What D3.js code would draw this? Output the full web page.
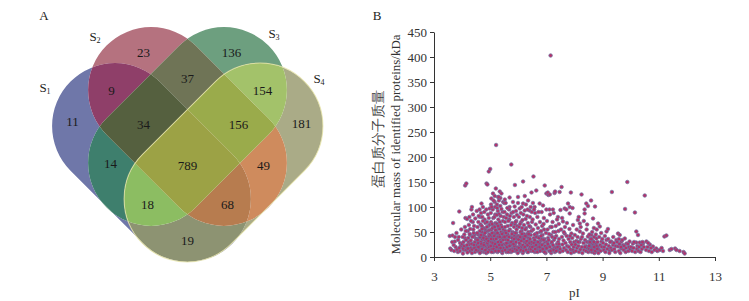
<!DOCTYPE html>
<html>
<head>
<meta charset="utf-8">
<script src="https://cdn.jsdelivr.net/npm/d3@7"></script>
<style>
  body { margin: 0; background: #fff; }
  text { font-family: "Liberation Serif", "Times New Roman", serif; }
</style>
</head>
<body>
<div id="chart"></div>
<script>
// ---- data: Venn panel A ----
const setNames = ['S1', 'S2', 'S3', 'S4'];
const regionSets = ['1', '2', '3', '4', '12', '23', '34', '13', '24', '14', '123', '234', '134', '124', '1234'];
const regionCounts = [11, 23, 136, 181, 9, 37, 154, 14, 49, 19, 34, 156, 18, 68, 789];

// ---- data: scatter panel B ----
const xTicks = [3, 5, 7, 9, 11, 13];
const yTicks = [0, 50, 100, 150, 200, 250, 300, 350, 400, 450];
// [pI, molecular mass kDa]
const spots = [
  [3.56,42],[3.66,43],[3.68,68],[3.9,91],[3.58,17],[3.62,14],[3.72,12],[3.77,20],[3.74,31],[3.86,34],
  [3.8,48],[3.7,24],[3.85,10],[3.92,12],[3.95,22],[3.88,40],[3.97,55],[3.93,28],[3.82,15],[3.65,30],
  [3.75,40],[3.9,18],[4.0,26],[4.06,14],[4.1,38],[4.16,20],[4.23,30],[4.28,44],[4.33,18],[4.38,26],[4.46,46],
  [4.11,143],[4.15,147],[4.03,17],[4.15,14],[4.03,7],[4.05,30],[4.08,45],[4.1,60],[4.12,78],[4.18,76],
  [4.2,52],[4.22,38],[4.25,25],[4.28,12],[4.3,18],[4.33,95],[4.35,100],[4.38,70],[4.4,55],[4.42,42],
  [4.45,30],[4.48,20],[4.46,10],[4.07,22],[4.14,34],[4.19,9],[4.24,64],[4.27,46],[4.31,33],[4.36,15],
  [4.39,85],[4.43,62],[4.47,77],[4.02,40],[4.17,24],[4.29,56],[4.34,26],[4.41,48],[4.49,37],[4.21,17],
  [4.26,80],[4.44,18],[4.37,40],[4.13,52],[4.32,72],
  [4.52,92],[4.55,60],[4.57,45],[4.6,30],[4.62,15],[4.64,80],[4.66,65],[4.69,107],[4.7,50],[4.72,35],
  [4.74,100],[4.75,20],[4.77,10],[4.8,75],[4.82,55],[4.84,40],[4.86,95],[4.87,147],[4.88,25],[4.9,145],
  [4.92,85],[4.94,62],[4.95,171],[4.96,45],[4.98,97],[4.99,30],[4.53,25],[4.56,12],[4.58,70],[4.61,38],
  [4.63,52],[4.65,22],[4.68,88],[4.71,16],[4.73,42],[4.76,58],[4.78,28],[4.79,90],[4.81,12],[4.83,68],
  [4.85,33],[4.89,18],[4.91,52],[4.93,38],[4.97,14],[4.54,48],[4.59,82],[4.67,30],[4.74,72],[4.82,22],
  [4.88,60],[4.95,78],[4.51,35],[4.6,18],[4.7,62],[4.78,45],[4.86,8],[4.93,24],[4.99,65],[4.64,40],
  [4.72,80],[4.8,35],[4.9,28],[4.57,28],[4.66,10],[4.84,50],[4.97,42],[4.62,95],
  [4.35,8],[4.42,24],[4.5,14],[4.55,34],[4.58,20],[4.63,8],[4.67,44],[4.69,26],[4.71,56],[4.76,38],
  [4.77,24],[4.81,48],[4.83,14],[4.87,36],[4.89,70],[4.92,10],[4.94,32],[4.96,20],[4.98,54],
  [5.0,176],[5.04,117],[5.1,127],[5.16,122],[5.16,110],[5.2,137],[5.21,224],[5.24,105],[5.28,120],[5.31,113],
  [5.34,131],[5.4,127],[5.46,110],[5.02,88],[5.03,70],[5.05,55],[5.06,40],[5.07,25],[5.08,12],[5.09,95],
  [5.11,78],[5.12,62],[5.13,48],[5.14,33],[5.15,18],[5.17,100],[5.18,85],[5.19,68],[5.22,52],[5.23,38],
  [5.25,22],[5.26,10],[5.27,92],[5.29,75],[5.3,58],[5.32,44],[5.33,28],[5.35,15],[5.36,102],[5.37,82],
  [5.38,64],[5.39,50],[5.41,35],[5.42,20],[5.43,8],[5.44,90],[5.45,72],[5.47,55],[5.48,42],[5.49,26],
  [5.01,45],[5.04,30],[5.06,16],[5.08,58],[5.1,36],[5.13,22],[5.15,80],[5.18,45],[5.2,28],[5.22,14],
  [5.24,66],[5.27,40],[5.29,18],[5.31,86],[5.33,56],[5.35,33],[5.38,12],[5.4,96],[5.42,60],[5.44,38],
  [5.46,16],[5.48,80],[5.03,105],[5.12,113],[5.25,98],[5.36,118],[5.07,66],[5.19,54],[5.28,30],[5.34,70],
  [5.45,48],[5.11,10],[5.23,84],[5.41,24],[5.05,100],[5.3,120],[5.5,108],
  [5.02,22],[5.03,36],[5.05,10],[5.07,48],[5.09,28],[5.12,16],[5.14,42],[5.16,60],[5.17,26],[5.19,12],
  [5.21,36],[5.23,20],[5.26,48],[5.28,62],[5.3,12],[5.32,24],[5.34,40],[5.37,18],[5.39,30],[5.42,46],
  [5.44,12],[5.47,34],[5.49,18],
  [5.52,115],[5.55,108],[5.69,119],[5.69,100],[5.75,185],[5.81,110],[5.87,101],[5.88,144],[5.99,120],[5.99,108],
  [5.51,90],[5.53,70],[5.54,52],[5.56,35],[5.57,18],[5.58,10],[5.6,85],[5.62,62],[5.63,45],[5.64,28],
  [5.66,14],[5.67,95],[5.68,75],[5.7,55],[5.72,40],[5.73,24],[5.74,10],[5.76,88],[5.78,68],[5.79,50],
  [5.8,32],[5.82,18],[5.84,80],[5.85,60],[5.86,42],[5.89,26],[5.9,12],[5.92,92],[5.93,72],[5.94,55],
  [5.96,36],[5.97,20],[5.98,8],[5.55,25],[5.59,42],[5.61,98],[5.65,72],[5.71,30],[5.77,16],[5.83,48],
  [5.88,66],[5.91,38],[5.95,84],[5.53,60],[5.62,20],[5.7,82],[5.78,38],[5.86,22],[5.93,48],[5.57,78],
  [5.66,52],[5.74,64],[5.82,90],[5.9,70],[5.97,62],
  [5.51,40],[5.53,14],[5.56,48],[5.58,28],[5.6,20],[5.63,34],[5.65,10],[5.67,40],[5.69,22],[5.72,14],
  [5.75,30],[5.77,46],[5.8,12],[5.83,26],[5.85,36],[5.88,16],[5.9,48],[5.92,30],[5.95,14],[5.98,42],
  [6.05,97],[6.17,107],[6.17,151],[6.23,122],[6.23,93],[6.35,113],[6.4,93],[6.47,129],[6.02,80],[6.03,60],
  [6.04,42],[6.06,25],[6.07,12],[6.09,88],[6.1,70],[6.12,52],[6.13,35],[6.14,18],[6.16,8],[6.18,85],
  [6.2,64],[6.21,46],[6.22,30],[6.24,15],[6.26,76],[6.28,58],[6.29,40],[6.3,22],[6.32,10],[6.33,95],
  [6.34,68],[6.36,50],[6.38,32],[6.39,16],[6.41,80],[6.43,60],[6.44,44],[6.45,26],[6.46,12],[6.48,90],
  [6.49,70],[6.01,35],[6.08,50],[6.11,20],[6.15,74],[6.19,40],[6.25,55],[6.27,28],[6.31,82],[6.37,38],
  [6.42,20],[6.44,100],[6.06,66],[6.12,100],[6.21,18],[6.33,46],[6.47,52],[6.27,105],[6.14,58],[6.39,62],
  [6.02,18],[6.04,28],[6.07,40],[6.09,14],[6.11,32],[6.13,46],[6.16,24],[6.18,12],[6.2,36],[6.23,20],
  [6.25,42],[6.28,14],[6.3,32],[6.33,24],[6.35,10],[6.37,46],[6.4,28],[6.42,36],[6.45,16],[6.48,30],
  [6.54,161],[6.52,108],[6.58,100],[6.64,133],[6.76,107],[6.88,103],[6.94,143],[7.0,127],[7.0,95],
  [6.51,75],[6.53,55],[6.55,38],[6.57,22],[6.59,10],[6.6,88],[6.62,65],[6.63,46],[6.65,30],[6.66,15],
  [6.68,80],[6.7,58],[6.71,40],[6.73,24],[6.74,12],[6.77,70],[6.78,50],[6.8,33],[6.81,18],[6.83,90],
  [6.85,62],[6.86,44],[6.87,26],[6.89,12],[6.91,78],[6.92,55],[6.93,36],[6.95,20],[6.97,8],[6.98,48],
  [6.56,95],[6.61,28],[6.67,48],[6.72,90],[6.79,15],[6.84,36],[6.9,66],[6.96,30],[6.58,45],[6.69,20],
  [6.82,52],[6.99,16],[6.75,28],
  [6.5,20],[6.53,12],[6.55,28],[6.58,34],[6.6,16],[6.63,24],[6.65,40],[6.68,10],[6.7,30],[6.73,38],
  [6.76,20],[6.78,12],[6.81,42],[6.84,24],[6.87,16],[6.9,34],[6.93,10],[6.96,22],
  [7.07,124],[7.05,129],[7.12,125],[7.15,403],[7.23,95],[7.29,128],[7.31,131],[7.47,130],[7.5,94],
  [7.02,72],[7.04,55],[7.06,38],[7.08,22],[7.1,12],[7.13,85],[7.14,60],[7.16,44],[7.18,28],[7.2,15],
  [7.22,70],[7.25,50],[7.27,34],[7.28,20],[7.3,10],[7.33,62],[7.35,42],[7.37,26],[7.39,14],[7.41,80],
  [7.43,52],[7.45,36],[7.46,20],[7.48,10],[7.11,95],[7.19,60],[7.26,88],[7.34,18],[7.42,30],[7.09,46],
  [7.17,8],[7.32,50],[7.44,66],[7.03,30],[7.21,40],[7.38,75],
  [7.01,18],[7.05,26],[7.08,34],[7.12,20],[7.15,12],[7.19,30],[7.23,24],[7.26,14],[7.3,38],[7.35,12],
  [7.4,20],[7.44,26],[7.49,16],
  [7.54,140],[7.59,71],[7.65,97],[7.65,47],[7.71,95],[7.77,107],[7.83,100],[7.83,87],[7.87,129],[7.89,47],
  [7.93,98],[7.95,64],[7.52,55],[7.55,40],[7.57,25],[7.58,12],[7.61,33],[7.63,18],[7.66,60],[7.68,28],
  [7.7,14],[7.72,42],[7.74,22],[7.76,10],[7.79,36],[7.8,20],[7.82,56],[7.85,30],[7.86,15],[7.88,8],
  [7.9,25],[7.92,38],[7.94,14],[7.97,20],[7.99,30],[7.56,78],[7.62,50],[7.73,68],[7.84,42],[7.98,10],
  [8.01,44],[8.12,74],[8.19,67],[8.19,51],[8.25,125],[8.3,47],[8.36,87],[8.36,95],[8.42,107],[8.48,102],
  [8.48,41],[8.03,25],[8.05,12],[8.07,32],[8.09,18],[8.11,40],[8.14,22],[8.16,10],[8.18,30],[8.21,15],
  [8.23,36],[8.26,20],[8.28,8],[8.32,28],[8.34,14],[8.38,34],[8.4,22],[8.41,12],[8.44,30],[8.46,18],
  [8.49,10],[8.08,55],[8.15,80],[8.22,60],[8.33,72],[8.43,55],[8.27,40],[8.45,65],[8.13,30],[8.37,20],
  [8.59,113],[8.6,44],[8.66,77],[8.73,101],[8.78,37],[8.84,67],[8.9,61],[8.96,31],
  [8.51,30],[8.52,16],[8.54,24],[8.56,12],[8.57,36],[8.58,20],[8.61,28],[8.62,10],[8.64,18],[8.65,32],
  [8.67,24],[8.68,14],[8.7,40],[8.71,8],[8.72,28],[8.75,18],[8.77,26],[8.8,12],[8.82,30],[8.83,20],
  [8.86,15],[8.88,40],[8.91,24],[8.93,12],[8.95,48],[8.97,20],[8.63,50],[8.69,58],[8.76,45],[8.85,8],
  [8.53,45],[8.79,55],[8.99,36],
  [8.52,22],[8.55,30],[8.6,14],[8.66,20],[8.69,30],[8.74,12],[8.78,22],[8.81,16],[8.6,36],[8.7,20],
  [9.14,51],[9.14,34],[9.31,31],[9.33,130],[9.37,24],[9.02,28],[9.04,14],[9.06,20],[9.08,42],[9.1,10],
  [9.12,25],[9.17,16],[9.2,36],[9.22,22],[9.25,12],[9.27,30],[9.29,18],[9.34,14],[9.4,28],[9.42,16],
  [9.45,10],[9.47,22],[9.49,34],[9.19,56],[9.38,40],[9.24,8],
  [9.55,47],[9.55,21],[9.67,17],[9.73,24],[9.79,37],[9.8,96],[9.85,27],[9.88,150],[9.96,31],[9.61,44],
  [9.67,31],[9.52,30],[9.58,12],[9.6,26],[9.63,8],[9.65,20],[9.7,34],[9.75,14],[9.77,22],[9.82,10],
  [9.84,18],[9.9,26],[9.92,12],[9.94,20],[9.98,16],[9.58,36],
  [10.08,27],[10.15,89],[10.2,51],[10.2,29],[10.26,44],[10.32,29],[10.44,27],[10.5,123],[10.02,20],[10.05,12],
  [10.1,18],[10.12,30],[10.16,10],[10.22,16],[10.24,22],[10.28,12],[10.3,20],[10.35,10],[10.38,24],[10.4,16],
  [10.42,30],[10.47,20],
  [10.56,31],[10.68,25],[10.79,21],[10.91,17],[10.55,14],[10.6,20],[10.62,28],[10.65,12],[10.72,18],[10.75,10],
  [10.85,14],[10.95,12],
  [11.03,14],[11.15,12],[11.2,41],[11.27,43],[11.39,14],[11.58,17],[11.63,14],[11.74,12],[11.88,10],[11.92,7],
  [11.45,16],[11.1,18]
];

// ---- layout ----
const width = 749, height = 301;
const svg = d3.select('#chart').append('svg')
  .attr('width', width)
  .attr('height', height);

// Venn frame: shapes are stadiums rotated +/-45 degrees
const vennCx = 187.5, vennCy = 144.5;
const capR = 63, capGap = 103;
const shapeGeom = [
  {dx: -36, dy: 18, angle: 45},
  {dx: 0, dy: -18, angle: 45},
  {dx: 0, dy: -18, angle: -45},
  {dx: 36, dy: 18, angle: -45}
];
const regionColor = {
  '1': '#6f77a9', '2': '#b5727f', '3': '#6d9f7f', '4': '#aaab87',
  '12': '#8f3f69', '23': '#6f7456', '34': '#a3c26a', '13': '#3e7f6d',
  '24': '#cf8b5d', '14': '#8d9372', '123': '#55603f', '234': '#9aab4b',
  '134': '#8cbd62', '124': '#b77c4f', '1234': '#9ca245'
};
const labelPos = {
  '1': [-115, -23], '2': [-44, -92], '3': [44, -92], '4': [114, -21],
  '12': [-76, -54], '23': [0, -66], '34': [75, -54], '13': [-77, 19],
  '24': [76, 21], '14': [0, 96], '123': [-44, -20], '234': [51, -20],
  '134': [-40, 60], '124': [40, 60], '1234': [0, 21]
};
const setLabelPos = [[45, 87], [95, 36], [274, 33], [319, 78]];

const defs = svg.append('defs');

function addShape(sel, g) {
  return sel.append('rect')
    .attr('x', -(capGap / 2 + capR))
    .attr('y', -capR)
    .attr('width', capGap + 2 * capR)
    .attr('height', 2 * capR)
    .attr('rx', capR)
    .attr('ry', capR)
    .attr('transform', `translate(${vennCx + g.dx},${vennCy + g.dy}) rotate(${g.angle})`);
}

shapeGeom.forEach((g, i) => {
  addShape(defs.append('clipPath').attr('id', 'clip' + (i + 1)), g);
});

const venn = svg.append('g').attr('class', 'venn');

// each region = inside its sets (nested clips) and outside the others (mask)
regionSets.forEach(key => {
  const inSets = key.split('').map(Number);
  const outSets = [1, 2, 3, 4].filter(s => !inSets.includes(s));
  const mask = defs.append('mask').attr('id', 'mask' + key)
    .attr('maskUnits', 'userSpaceOnUse')
    .attr('x', 0).attr('y', 0).attr('width', width).attr('height', height);
  mask.append('rect').attr('width', 380).attr('height', height).attr('fill', 'white');
  outSets.forEach(s => addShape(mask, shapeGeom[s - 1]).attr('fill', 'black'));

  let g = venn;
  inSets.forEach(s => { g = g.append('g').attr('clip-path', `url(#clip${s})`); });
  g.append('g').attr('mask', `url(#mask${key})`)
    .append('rect')
    .attr('width', 380).attr('height', height)
    .attr('fill', regionColor[key]);
});

// soft outline on the top set
addShape(venn, shapeGeom[3])
  .attr('fill', 'none')
  .attr('stroke', '#e6e4a6')
  .attr('stroke-width', 1)
  .attr('opacity', 0.8);

venn.selectAll('.count')
  .data(regionSets.map((k, i) => ({key: k, count: regionCounts[i]})))
  .join('text')
  .attr('class', 'count')
  .attr('x', d => vennCx + labelPos[d.key][0])
  .attr('y', d => vennCy + labelPos[d.key][1])
  .attr('dy', '0.35em')
  .attr('text-anchor', 'middle')
  .attr('font-size', 13)
  .attr('fill', '#1a1a1a')
  .text(d => d.count);

const setText = venn.selectAll('.setname')
  .data(setNames)
  .join('text')
  .attr('class', 'setname')
  .attr('x', (d, i) => setLabelPos[i][0])
  .attr('y', (d, i) => setLabelPos[i][1])
  .attr('dy', '0.35em')
  .attr('text-anchor', 'middle')
  .attr('font-size', 13)
  .attr('fill', '#222');
setText.append('tspan').text(d => d[0]);
setText.append('tspan').attr('font-size', 8).attr('dy', '0.25em').text(d => d.slice(1));

svg.append('text').attr('x', 44).attr('y', 20).attr('text-anchor', 'middle')
  .attr('font-size', 13).attr('fill', '#222').text('A');

// ---- scatter ----
const x = d3.scaleLinear().domain([3, 13]).range([434, 715]);
const y = d3.scaleLinear().domain([0, 450]).range([257, 32]);

svg.append('text').attr('x', 377).attr('y', 20).attr('text-anchor', 'middle')
  .attr('font-size', 13).attr('fill', '#222').text('B');

const xAxis = svg.append('g')
  .attr('transform', `translate(0,${y(0)})`)
  .call(d3.axisBottom(x).tickValues(xTicks).tickSize(4).tickSizeOuter(0).tickPadding(11));
const yAxis = svg.append('g')
  .attr('transform', `translate(${x(3)},0)`)
  .call(d3.axisLeft(y).tickValues(yTicks).tickSize(4).tickSizeOuter(0).tickPadding(3));
[xAxis, yAxis].forEach(a => {
  a.selectAll('text').attr('font-family', '"Liberation Serif", serif').attr('font-size', 13).attr('fill', '#333');
  a.selectAll('line,path').attr('stroke', '#333');
});

svg.append('text')
  .attr('x', (x(3) + x(13)) / 2).attr('y', 297)
  .attr('text-anchor', 'middle').attr('font-size', 13).attr('fill', '#333')
  .text('pI');

svg.append('text')
  .attr('transform', `translate(378,${(y(0) + y(450)) / 2 - 6}) rotate(-90)`)
  .attr('text-anchor', 'middle').attr('dy', '0.35em')
  .attr('font-family', '"Noto Sans CJK SC", sans-serif')
  .attr('font-size', 14).attr('fill', '#444')
  .text('蛋白质分子质量');
svg.append('text')
  .attr('transform', `translate(395,${(y(0) + y(450)) / 2}) rotate(-90)`)
  .attr('text-anchor', 'middle').attr('dy', '0.35em')
  .attr('font-size', 13).attr('fill', '#333')
  .text('Molecular mass of identified proteins/kDa');

svg.append('g').selectAll('circle')
  .data(spots)
  .join('circle')
  .attr('cx', d => x(d[0]))
  .attr('cy', d => y(d[1]))
  .attr('r', 1.8)
  .attr('fill', '#b4326a')
  .attr('stroke', '#6e72a2')
  .attr('stroke-width', 0.7);
</script>
</body>
</html>
